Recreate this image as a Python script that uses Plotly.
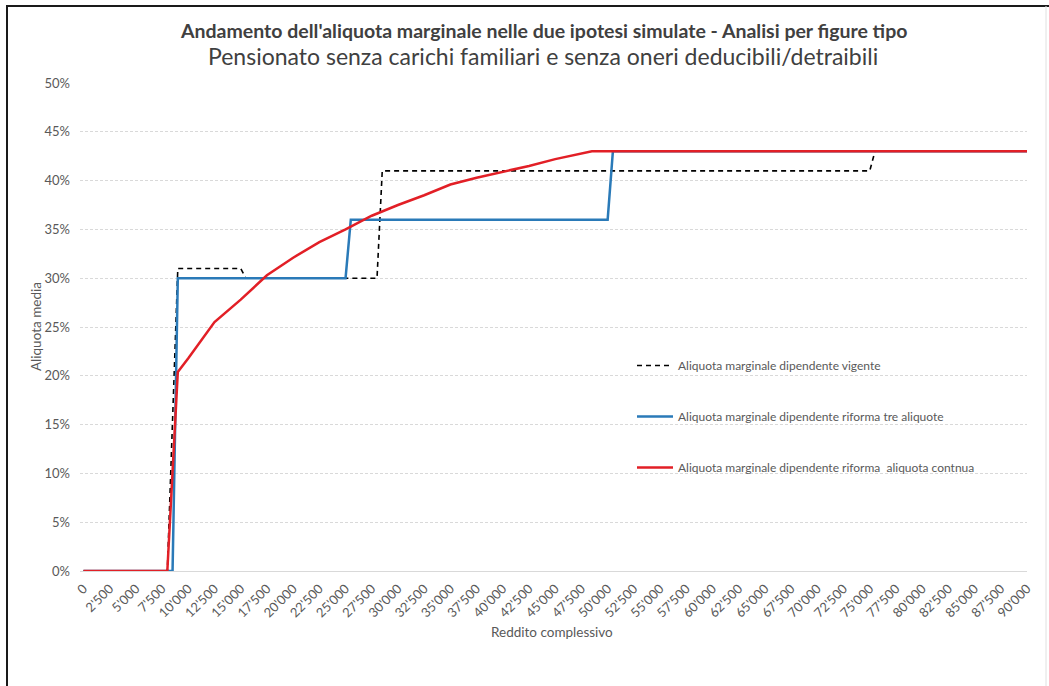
import plotly.graph_objects as go

# reddito complessivo (euro) / aliquota marginale (%)
reddito_vigente = [0, 8000, 9000, 15000, 15500, 28000, 28500, 75000, 75500, 90000]
aliquota_vigente = [0, 0, 31, 31, 30, 30, 41, 41, 43, 43]

reddito_tre = [0, 8500, 9000, 25000, 25500, 50000, 50500, 90000]
aliquota_tre = [0, 0, 30, 30, 36, 36, 43, 43]

reddito_continua = [0, 8000, 9000, 10000, 12500, 15000, 17500, 20000, 22500, 25000, 27500,
                    30000, 32500, 35000, 37500, 40000, 42500, 45000, 47500, 48500, 90000]
aliquota_continua = [0, 0, 20.4, 21.8, 25.5, 27.8, 30.3, 32.1, 33.7, 35.0, 36.4,
                     37.5, 38.5, 39.6, 40.3, 40.9, 41.5, 42.2, 42.8, 43.0, 43.0]

x_ticks = list(range(0, 90001, 2500))
y_ticks = [0, 5, 10, 15, 20, 25, 30, 35, 40, 45, 50]
y_labels = ['0%', '5%', '10%', '15%', '20%', '25%', '30%', '35%', '40%', '45%', '50%']

names = ['Aliquota marginale dipendente vigente',
         'Aliquota marginale dipendente riforma tre aliquote',
         'Aliquota marginale dipendente riforma  aliquota contnua']

FONT = 'Lato'
GREY = '#595959'

fig = go.Figure()
fig.add_trace(go.Scatter(x=reddito_vigente, y=aliquota_vigente, mode='lines', name=names[0],
                         legendgroup='a',
                         line=dict(color='black', width=1.6, dash='5px,4px')))
fig.add_trace(go.Scatter(x=reddito_tre, y=aliquota_tre, mode='lines', name=names[1],
                         legendgroup='b',
                         line=dict(color='#2a7ab8', width=2.5)))
fig.add_trace(go.Scatter(x=reddito_continua, y=aliquota_continua, mode='lines', name=names[2],
                         legendgroup='c',
                         line=dict(color='#e21f26', width=2.5)))

# plot area in pixels: x 80..1027, y 83..571
def px(x):
    return (x - 80) / 947


def py(y):
    return (571 - y) / 488


annotations = [
    dict(text="<b>Andamento dell'aliquota marginale nelle due ipotesi simulate - Analisi per figure tipo</b>",
         x=px(543), y=py(30), font=dict(size=19.5, color='#404040')),
    dict(text='Pensionato senza carichi familiari e senza oneri deducibili/detraibili',
         x=px(543), y=py(56), font=dict(size=23, color='#404040')),
    dict(text='Reddito complessivo', x=px(552), y=py(632), font=dict(size=13.5, color=GREY)),
    dict(text='Aliquota media', x=px(36), y=py(327), textangle=-90, font=dict(size=13.5, color=GREY)),
]
for a in annotations:
    a.update(xref='paper', yref='paper', showarrow=False, xanchor='center', yanchor='middle')

# frame of the chart area
shapes = [
    dict(type='line', xref='paper', yref='paper', x0=px(6), x1=px(1049), y0=py(6), y1=py(6),
         line=dict(color='#1a1a1a', width=2)),
    dict(type='line', xref='paper', yref='paper', x0=px(7), x1=px(7), y0=py(6), y1=py(690),
         line=dict(color='#1a1a1a', width=2)),
    dict(type='line', xref='paper', yref='paper', x0=px(1046), x1=px(1046), y0=py(6), y1=py(690),
         line=dict(color='#e0e0e0', width=1)),
]

fig.update_layout(
    width=1049, height=686,
    margin=dict(l=80, r=22, t=83, b=115),
    paper_bgcolor='white', plot_bgcolor='white',
    font=dict(family=FONT, color=GREY, size=11),
    separators=".'",
    annotations=annotations,
    shapes=shapes,
    showlegend=True,
    legend=dict(x=px(632), y=py(351), xanchor='left', yanchor='top',
                bgcolor='rgba(0,0,0,0)', font=dict(size=12, color=GREY),
                tracegroupgap=32, itemwidth=36),
    xaxis=dict(range=[-330, 90000], tickvals=x_ticks, tickformat=',d', tickangle=-45,
               showgrid=False, zeroline=False, showline=True, linecolor='#d9d9d9',
               ticks='', ticklabelstandoff=4, tickfont=dict(size=13, color=GREY),
               automargin=False),
    yaxis=dict(range=[0, 50], tickvals=y_ticks, ticktext=y_labels, showgrid=True,
               gridcolor='#d9d9d9', griddash='3px,2px', zeroline=False,
               ticks='', ticklabelstandoff=9, tickfont=dict(size=13, color=GREY),
               automargin=False),
)

# no default page margin, so the figure sits at the window origin
fig.write_html("out.html", config={'displayModeBar': False},
               post_script="document.body.style.margin='0';")
